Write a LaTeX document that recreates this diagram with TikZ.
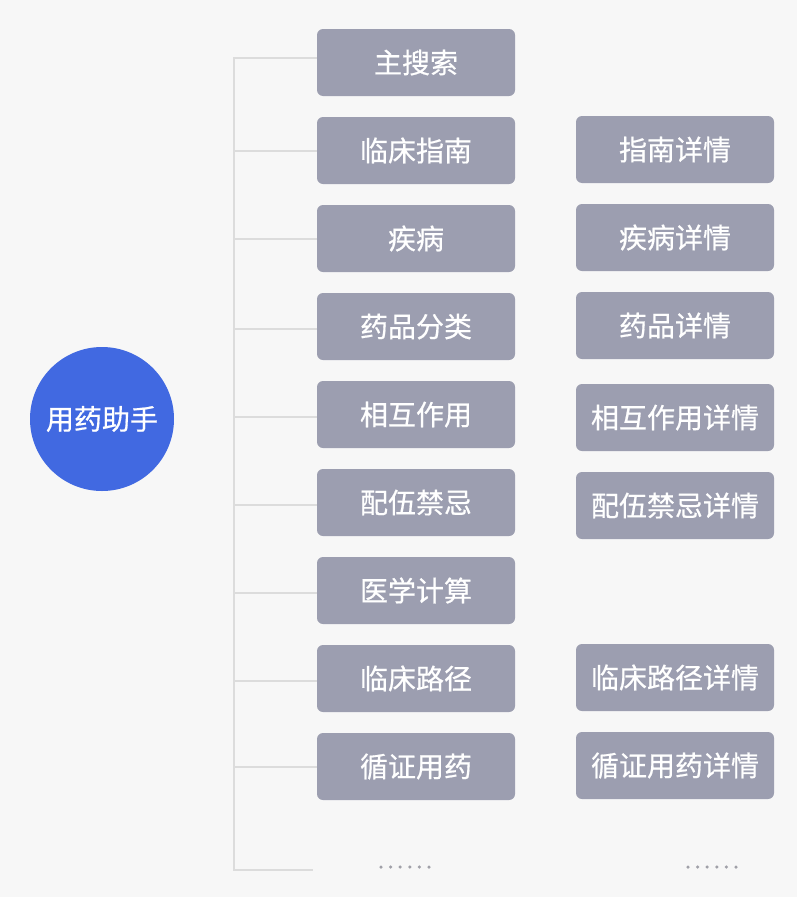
\documentclass[tikz,border=0pt]{standalone}
\usepackage{fontspec}
\newfontfamily\cjk[FakeBold=0.6]{Noto Sans CJK SC}
\definecolor{bg}{HTML}{F7F7F7}
\definecolor{boxc}{HTML}{9C9EB0}
\definecolor{blu}{HTML}{4169E1}
\definecolor{ln}{HTML}{DCDCDC}
\definecolor{dotc}{HTML}{A0A0A8}
\begin{document}
\begin{tikzpicture}[x=1pt,y=-1pt,
  itembox/.style={fill=boxc,rounded corners=6pt,minimum width=198pt,minimum height=67pt,inner sep=0pt,text=white,font=\cjk\fontsize{28}{30}\selectfont},
  hub/.style={circle,fill=blu,minimum size=144pt,inner sep=0pt,text=white,font=\cjk\fontsize{28}{30}\selectfont},
  conn/.style={draw=ln,line width=1.6pt},
  dotmark/.style={circle,fill=dotc,inner sep=0pt,minimum size=3.5pt}]
\fill[bg] (0,0) rectangle (797,897);
\useasboundingbox (0,0) rectangle (797,897);
\node[hub] (c) at (102,419) {用药助手};
% left column
\node[itembox] (l1) at (416,62.5) {主搜索};
\node[itembox] (l2) at (416,150.5) {临床指南};
\node[itembox] (l3) at (416,238.5) {疾病};
\node[itembox] (l4) at (416,326.5) {药品分类};
\node[itembox] (l5) at (416,414.5) {相互作用};
\node[itembox] (l6) at (416,502.5) {配伍禁忌};
\node[itembox] (l7) at (416,590.5) {医学计算};
\node[itembox] (l8) at (416,678.5) {临床路径};
\node[itembox] (l9) at (416,766.5) {循证用药};
% right column
\node[itembox] (r2) at (675,149.5) {指南详情};
\node[itembox] (r3) at (675,237.5) {疾病详情};
\node[itembox] (r4) at (675,325.5) {药品详情};
\node[itembox] (r5) at (675,417.5) {相互作用详情};
\node[itembox] (r6) at (675,505.5) {配伍禁忌详情};
\node[itembox] (r8) at (675,677.5) {临床路径详情};
\node[itembox] (r9) at (675,765.5) {循证用药详情};
% bracket
\coordinate (top) at (234,58);
\coordinate (bot) at (234,870);
\coordinate (botend) at (313,870);
\draw[conn] (l1.west |- top) -- (top) -- (bot) -- (botend);
\foreach \i/\y in {l2/151,l3/239,l4/329,l5/417,l6/505,l7/593,l8/681,l9/767}{
  \coordinate (b\i) at (234,\y);
  \draw[conn] (b\i) -- (\i.west |- b\i);
}
% ellipses
\foreach \k in {0,...,5}{
  \node[dotmark] (dl\k) at (381+9.6*\k,867) {};
  \node[dotmark] (dr\k) at (688+9.6*\k,867) {};
}
\end{tikzpicture}
\end{document}
